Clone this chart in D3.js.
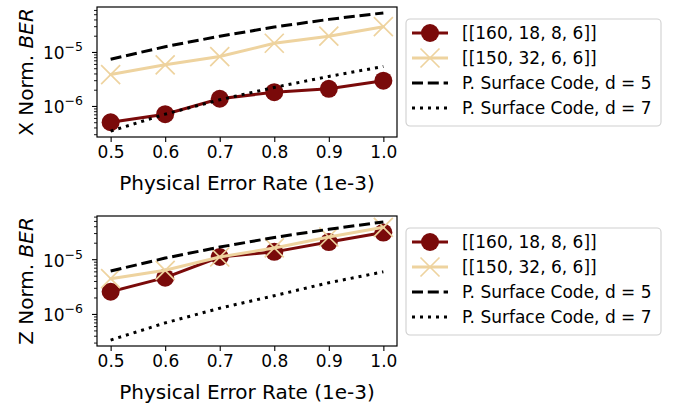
<!DOCTYPE html>
<html>
<head>
<meta charset="utf-8">
<script src="https://cdn.jsdelivr.net/npm/d3@7"></script>
<style>
  body { margin: 0; background: #fff; }
  svg { font-family: "DejaVu Sans", sans-serif; }
</style>
</head>
<body>
<svg id="chart" width="677" height="405"></svg>
<script>
// physical error rates (x 1e-3)
const errorRates = [0.5, 0.6, 0.7, 0.8, 0.9, 1.0];
const xTicks = [0.5, 0.6, 0.7, 0.8, 0.9, 1.0];

// X normalised BER
const xBer160 = [5.1e-7, 7.2e-7, 1.39e-6, 1.84e-6, 2.12e-6, 3.0e-6];
const xBer150 = [3.9e-6, 5.9e-6, 8.4e-6, 1.48e-5, 2.0e-5, 3.0e-5];
const xSurfD5 = [7.5e-6, 1.28e-5, 2.0e-5, 2.95e-5, 4.1e-5, 5.4e-5];
const xSurfD7 = [3.5e-7, 7.2e-7, 1.33e-6, 2.25e-6, 3.6e-6, 5.5e-6];

// Z normalised BER
const zBer160 = [2.6e-6, 4.7e-6, 1.12e-5, 1.39e-5, 2.1e-5, 3.13e-5];
const zBer150 = [4.5e-6, 6.4e-6, 1.12e-5, 1.64e-5, 2.6e-5, 3.9e-5];
const zSurfD5 = [6.2e-6, 1.07e-5, 1.7e-5, 2.55e-5, 3.6e-5, 4.9e-5];
const zSurfD7 = [3.4e-7, 7.0e-7, 1.3e-6, 2.2e-6, 3.8e-6, 6.0e-6];

const seriesNames = ['[[160, 18, 8, 6]]', '[[150, 32, 6, 6]]',
  'P. Surface Code, d = 5', 'P. Surface Code, d = 7'];
const yMajorTicks = [1e-6, 1e-5];

const RED = '#7a0a0a';
const TAN = '#eed39f';
const svg = d3.select('#chart');

const styles = [
  { color: RED, dash: null, marker: 'circle' },
  { color: TAN, dash: null, marker: 'cross' },
  { color: '#000', dash: '11,4.8', marker: null },
  { color: '#000', dash: '3,5', marker: null }
];

function drawMarker(g, kind, x, y, color) {
  if (kind === 'circle') {
    g.append('circle').attr('cx', x).attr('cy', y).attr('r', 9).attr('fill', color);
  } else if (kind === 'cross') {
    const s = 9.5;
    g.append('path')
      .attr('d', `M${x - s},${y - s}L${x + s},${y + s}M${x - s},${y + s}L${x + s},${y - s}`)
      .attr('stroke', color).attr('stroke-width', 1.7).attr('fill', 'none');
  }
}

// one panel: axes box, lines, ticks, labels and legend
function drawPanel(top, series, ylabelPrefix) {
  const left = 97, width = 300, height = 130;
  const g = svg.append('g').attr('transform', `translate(${left},${top})`);

  const x = d3.scaleLinear().domain([0.475, 1.025]).range([0, width]);
  const all = series.flat();
  const lo = Math.log10(d3.min(all)), hi = Math.log10(d3.max(all));
  const pad = (hi - lo) * 0.05;
  const y = d3.scaleLog().domain([10 ** (lo - pad), 10 ** (hi + pad)]).range([height, 0]);

  const line = d3.line().x((d, i) => x(errorRates[i])).y(d => y(d));

  // same order as the legend: each series over the previous one
  series.forEach((vals, k) => {
    const st = styles[k];
    g.append('path')
      .datum(vals)
      .attr('d', line)
      .attr('fill', 'none')
      .attr('stroke', st.color)
      .attr('stroke-width', 3)
      .attr('stroke-dasharray', st.dash)
      .attr('stroke-linecap', st.dash ? 'butt' : 'square');
    if (st.marker) {
      vals.forEach((v, i) => drawMarker(g, st.marker, x(errorRates[i]), y(v), st.color));
    }
  });

  // x axis
  const xAxis = g.append('g').attr('transform', `translate(0,${height})`)
    .call(d3.axisBottom(x).tickValues(xTicks).tickFormat(d3.format('.1f')).tickSize(5).tickPadding(4));
  xAxis.select('.domain').remove();
  xAxis.selectAll('line').attr('stroke', '#000').attr('stroke-width', 1.1);
  xAxis.selectAll('text').attr('font-size', 17).attr('fill', '#000')
    .attr('font-family', '"DejaVu Sans", sans-serif');

  // y axis, log ticks
  const [d0, d1] = y.domain();
  const minor = [];
  for (let e = Math.floor(Math.log10(d0)); e <= Math.ceil(Math.log10(d1)); e++) {
    for (let m = 2; m <= 9; m++) {
      const v = m * 10 ** e;
      if (v >= d0 && v <= d1) minor.push(v);
    }
  }
  const yAxis = g.append('g');
  yAxis.selectAll('.minor').data(minor).enter().append('line')
    .attr('x1', -3).attr('x2', 0)
    .attr('y1', d => y(d)).attr('y2', d => y(d))
    .attr('stroke', '#000').attr('stroke-width', 0.9);
  yAxis.selectAll('.major').data(yMajorTicks).enter().append('line')
    .attr('x1', -5).attr('x2', 0)
    .attr('y1', d => y(d)).attr('y2', d => y(d))
    .attr('stroke', '#000').attr('stroke-width', 1.1);
  const lab = yAxis.selectAll('.lab').data(yMajorTicks).enter().append('text')
    .attr('x', -14).attr('y', d => y(d) + 7)
    .attr('text-anchor', 'end').attr('font-size', 17);
  lab.append('tspan').text('10');
  lab.append('tspan').attr('dy', -8).attr('font-size', 12.5)
    .text(d => '\u2212' + Math.round(-Math.log10(d)));

  // frame
  g.append('rect').attr('width', width).attr('height', height)
    .attr('fill', 'none').attr('stroke', '#000').attr('stroke-width', 1.2);

  // axis titles
  g.append('text').attr('x', width / 2).attr('y', height + 53)
    .attr('text-anchor', 'middle').attr('font-size', 20)
    .text('Physical Error Rate (1e-3)');
  const yl = g.append('text')
    .attr('transform', `translate(${33 - left},${height / 2}) rotate(-90)`)
    .attr('text-anchor', 'middle').attr('font-size', 20);
  yl.append('tspan').text(ylabelPrefix + ' Norm. ');
  yl.append('tspan').attr('font-style', 'italic').text('BER');

  // legend
  const lg = svg.append('g').attr('transform', `translate(406,${top + height / 2 - 53})`);
  lg.append('rect').attr('width', 255).attr('height', 107).attr('rx', 4)
    .attr('fill', '#fff').attr('stroke', '#d0d0d0').attr('stroke-width', 1.1);
  seriesNames.forEach((name, k) => {
    const st = styles[k];
    const cy = 14 + k * 25;
    lg.append('line').attr('x1', 6).attr('x2', 42).attr('y1', cy).attr('y2', cy)
      .attr('stroke', st.color).attr('stroke-width', 3)
      .attr('stroke-dasharray', st.dash);
    if (st.marker) drawMarker(lg, st.marker, 24, cy, st.color);
    lg.append('text').attr('x', 56).attr('y', cy + 6).attr('font-size', 17).text(name);
  });
}

drawPanel(7, [xBer160, xBer150, xSurfD5, xSurfD7], 'X');
drawPanel(216, [zBer160, zBer150, zSurfD5, zSurfD7], 'Z');
</script>
</body>
</html>
